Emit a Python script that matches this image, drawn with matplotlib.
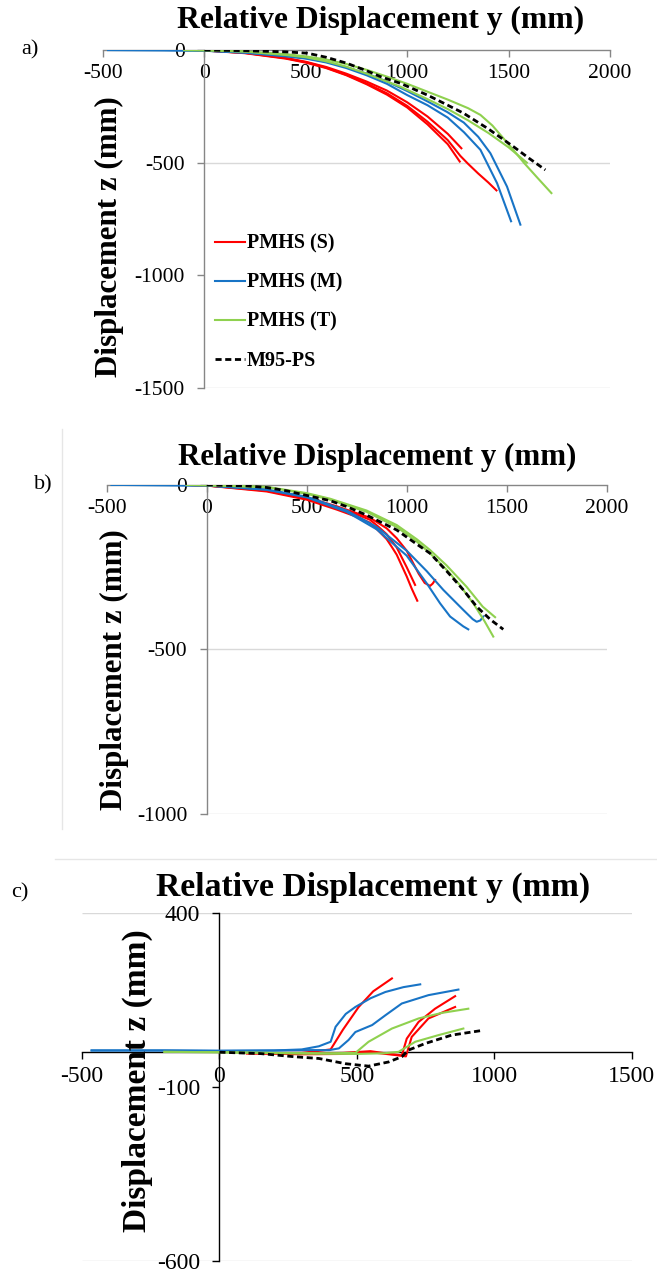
import matplotlib
matplotlib.use("Agg")
import matplotlib.pyplot as plt
from matplotlib.lines import Line2D

plt.rcParams['font.family'] = ['Liberation Serif', 'DejaVu Serif']
plt.rcParams['axes.unicode_minus'] = False

RED = '#ff0000'
BLUE = '#1874c6'
GREEN = '#8fd14f'

# ---- panel a) ----
a_s1_y = [-50, 0, 200, 400, 500, 600, 700, 800, 900, 1000, 1100, 1200, 1267]
a_s1_z = [0, -2, -12, -35, -52, -75, -105, -140, -180, -232, -295, -372, -436]
a_s2_y = [-50, 0, 200, 400, 500, 600, 700, 800, 900, 1000, 1100, 1200, 1259]
a_s2_z = [0, -2, -14, -38, -56, -80, -112, -152, -198, -255, -330, -418, -495]
a_s3_y = [-50, 0, 200, 400, 500, 600, 700, 800, 900, 1000, 1100, 1200, 1262, 1300, 1350, 1400, 1440]
a_s3_z = [0, -2, -13, -36, -54, -78, -110, -148, -192, -248, -318, -400, -470, -505, -548, -588, -623]
a_m1_y = [-475, -200, 0, 200, 400, 500, 600, 700, 800, 900, 1000, 1100, 1200, 1280, 1361, 1443, 1512]
a_m1_z = [0, -1, -3, -12, -28, -38, -55, -80, -112, -150, -200, -245, -300, -365, -443, -591, -760]
a_m2_y = [-475, -200, 0, 200, 400, 500, 600, 700, 800, 900, 1000, 1100, 1197, 1279, 1350, 1410, 1492, 1558]
a_m2_z = [0, -1, -3, -11, -26, -36, -52, -76, -105, -140, -182, -228, -275, -322, -385, -458, -606, -775]
a_t1_y = [-100, 0, 200, 400, 500, 600, 700, 800, 900, 1000, 1100, 1200, 1300, 1361, 1420, 1509, 1575, 1640, 1711]
a_t1_z = [0, -1, -6, -18, -28, -42, -62, -88, -118, -150, -185, -220, -258, -288, -335, -428, -500, -565, -635]
a_t2_y = [-100, 0, 200, 400, 500, 600, 700, 800, 900, 967, 1100, 1200, 1300, 1400, 1500, 1590]
a_t2_z = [0, -1, -7, -22, -32, -50, -74, -105, -140, -163, -218, -262, -312, -368, -432, -500]
a_ps_y = [0, 200, 400, 508, 600, 700, 800, 868, 967, 1100, 1200, 1277, 1400, 1524, 1600, 1681]
a_ps_z = [0, -3, -8, -14, -32, -58, -92, -118, -148, -200, -245, -280, -350, -429, -480, -532]

# ---- panel b) ----
b_s1_y = [-100, 0, 300, 500, 650, 750, 817, 860, 900, 925, 950, 975, 1000, 1025, 1053]
b_s1_z = [0, -2, -20, -45, -75, -97, -115, -140, -165, -188, -212, -245, -278, -315, -352]
b_s2_y = [-100, 0, 300, 500, 650, 750, 817, 860, 900, 950, 1000, 1042]
b_s2_z = [0, -2, -18, -42, -70, -90, -106, -128, -150, -190, -250, -304]
b_s3_y = [-100, 0, 300, 500, 650, 817, 900, 950, 1000, 1030, 1060, 1090, 1117, 1130, 1142]
b_s3_z = [0, -2, -16, -38, -65, -100, -132, -162, -200, -235, -270, -298, -307, -300, -289]
b_m1_y = [-475, -200, 0, 300, 500, 700, 850, 1000, 1100, 1167, 1217, 1283, 1308]
b_m1_z = [0, -1, -2, -15, -38, -82, -135, -215, -299, -360, -400, -430, -439]
b_m2_y = [-475, -200, 0, 300, 500, 700, 850, 1000, 1100, 1183, 1283, 1330, 1350, 1368, 1383]
b_m2_z = [0, -1, -2, -14, -36, -78, -128, -200, -262, -319, -380, -408, -416, -412, -400]
b_t1_y = [-100, 0, 300, 500, 617, 800, 950, 1050, 1117, 1200, 1300, 1380, 1442]
b_t1_z = [0, -1, -6, -25, -42, -78, -122, -165, -198, -245, -310, -370, -402]
b_t2_y = [-100, 0, 300, 500, 617, 800, 950, 1050, 1117, 1200, 1260, 1333, 1390, 1433]
b_t2_z = [0, -1, -7, -27, -45, -82, -128, -172, -208, -258, -300, -360, -415, -461]
b_ps_y = [0, 200, 300, 400, 500, 617, 700, 800, 950, 1050, 1117, 1200, 1283, 1350, 1420, 1483]
b_ps_z = [0, -3, -8, -18, -32, -48, -66, -92, -137, -180, -208, -262, -319, -370, -410, -439]

# ---- panel c) ----
c_s1_y = [100, 300, 405, 450, 507, 560, 628]
c_s1_z = [-3, -2, 8, 65, 130, 175, 212]
c_s2_y = [100, 300, 450, 550, 620, 664, 682, 725, 785, 858]
c_s2_z = [-3, -4, -2, 3, -5, -9, 39, 87, 125, 161]
c_s3_y = [100, 300, 450, 550, 640, 679, 700, 761, 858]
c_s3_z = [-3, -6, -5, 0, -8, -12, 44, 97, 130]
c_m1_y = [-465, -200, 0, 200, 300, 362, 405, 423, 460, 495, 550, 604, 670, 731]
c_m1_z = [5, 5, 4, 5, 8, 17, 30, 73, 110, 130, 155, 173, 187, 195]
c_m2_y = [-465, -200, 0, 200, 300, 400, 435, 470, 495, 556, 604, 664, 761, 870]
c_m2_z = [5, 5, 4, 5, 6, 6, 11, 35, 58, 78, 106, 140, 164, 180]
c_t1_y = [-200, 0, 200, 400, 495, 543, 628, 725, 810, 906]
c_t1_z = [1, 0, -2, -3, -2, 30, 68, 97, 113, 125]
c_t2_y = [-200, 0, 300, 500, 600, 652, 713, 797, 888]
c_t2_z = [1, 0, -4, -5, -3, 1, 30, 49, 68]
c_ps_y = [0, 150, 273, 362, 459, 543, 616, 664, 688, 749, 845, 960]
c_ps_z = [0, -4, -13, -18, -33, -40, -28, -13, 6, 25, 49, 63]

legend_labels = ['PMHS (S)', 'PMHS (M)', 'PMHS (T)', 'M95-PS']

fig = plt.figure(figsize=(6.57, 12.70), dpi=100)


def draw(ax, curves):
    for y, z, col in curves:
        if col == 'k':
            ax.plot(y, z, color='black', lw=2.0, ls=(0, (2.2, 1.3)), zorder=4)
        else:
            ax.plot(y, z, color=col, lw=1.5, zorder=3)


def style(ax, xlim, ylim, xticks, yticks, grids, gx0, axcol, fs):
    ax.set_xlim(xlim)
    ax.set_ylim(ylim)
    ax.patch.set_alpha(0)
    for s in ['top', 'right']:
        ax.spines[s].set_visible(False)
    ax.spines['left'].set_position(('data', 0))
    ax.spines['bottom'].set_position(('data', 0))
    for s in ['left', 'bottom']:
        ax.spines[s].set_color(axcol)
        ax.spines[s].set_linewidth(1.0)
    ax.set_xticks(xticks)
    ax.set_yticks(yticks)
    ax.set_xticklabels([str(v) for v in xticks])
    ax.set_yticklabels([str(v) for v in yticks])
    ax.tick_params(axis='x', direction='out', length=5, width=1, color=axcol, pad=5, labelsize=fs)
    ax.tick_params(axis='y', direction='out', length=5, width=1, color=axcol, pad=9, labelsize=fs)
    for g in grids:
        ax.hlines(g, gx0, xlim[1], color='#d9d9d9', lw=1.0, zorder=1)


# a)
ax1 = fig.add_axes([0.1568, 0.6945, 0.7717, 0.2661])
style(ax1, (-500, 2000), (-1500, 0), [-500, 0, 500, 1000, 1500, 2000],
      [0, -500, -1000, -1500], [-500, -1500], 0, '#868686', 15.5)
draw(ax1, [(a_s1_y, a_s1_z, RED), (a_s2_y, a_s2_z, RED), (a_s3_y, a_s3_z, RED),
           (a_m1_y, a_m1_z, BLUE), (a_m2_y, a_m2_z, BLUE),
           (a_t1_y, a_t1_z, GREEN), (a_t2_y, a_t2_z, GREEN),
           (a_ps_y, a_ps_z, 'k')])
handles = [Line2D([], [], color=RED, lw=1.5), Line2D([], [], color=BLUE, lw=1.5),
           Line2D([], [], color=GREEN, lw=1.5),
           Line2D([], [], color='black', lw=2.0, ls=(0, (2.2, 1.3)))]
fig.legend(handles, legend_labels, loc='upper left', bbox_to_anchor=(0.328, 0.816),
           frameon=False, prop={'weight': 'bold', 'size': 14.5}, handlelength=1.45,
           handletextpad=0.1, labelspacing=0.95, borderpad=0, borderaxespad=0)

# b)
ax2 = fig.add_axes([0.1624, 0.3591, 0.7610, 0.2591])
style(ax2, (-500, 2000), (-1000, 0), [-500, 0, 500, 1000, 1500, 2000],
      [0, -500, -1000], [-500, -1000], 0, '#868686', 15.5)
draw(ax2, [(b_s1_y, b_s1_z, RED), (b_s2_y, b_s2_z, RED), (b_s3_y, b_s3_z, RED),
           (b_m1_y, b_m1_z, BLUE), (b_m2_y, b_m2_z, BLUE),
           (b_t1_y, b_t1_z, GREEN), (b_t2_y, b_t2_z, GREEN),
           (b_ps_y, b_ps_z, 'k')])

# c)
ax3 = fig.add_axes([0.1248, 0.00709, 0.8364, 0.2740])
style(ax3, (-500, 1500), (-600, 400), [-500, 0, 500, 1000, 1500],
      [400, -100, -600], [400, -600], -500, '#000000', 17)
draw(ax3, [(c_s1_y, c_s1_z, RED), (c_s2_y, c_s2_z, RED), (c_s3_y, c_s3_z, RED),
           (c_m1_y, c_m1_z, BLUE), (c_m2_y, c_m2_z, BLUE),
           (c_t1_y, c_t1_z, GREEN), (c_t2_y, c_t2_z, GREEN),
           (c_ps_y, c_ps_z, 'k')])

# titles, axis labels, panel letters
title = 'Relative Displacement y (mm)'
fig.text(0.580, 0.984, title, ha='center', va='center', fontsize=22.8, weight='bold')
fig.text(0.574, 0.640, title, ha='center', va='center', fontsize=22.3, weight='bold')
fig.text(0.568, 0.3016, title, ha='center', va='center', fontsize=24.3, weight='bold')
ylab = 'Displacement z (mm)'
fig.text(0.167, 0.8134, ylab, rotation=90, ha='center', va='center', fontsize=22.3, weight='bold')
fig.text(0.1735, 0.4724, ylab, rotation=90, ha='center', va='center', fontsize=22.3, weight='bold')
fig.text(0.2085, 0.1488, ylab, rotation=90, ha='center', va='center', fontsize=24, weight='bold')
fig.text(0.0457, 0.9606, 'a)', ha='center', va='center', fontsize=16)
fig.text(0.0654, 0.618, 'b)', ha='center', va='center', fontsize=16)
fig.text(0.030, 0.2969, 'c)', ha='center', va='center', fontsize=16)

# faint chart borders
fig.add_artist(Line2D([0.095, 0.095], [0.347, 0.662], color='#e6e6e6', lw=1))
fig.add_artist(Line2D([0.084, 1.0], [0.3236, 0.3236], color='#e6e6e6', lw=1))

fig.savefig('out.png', dpi=100)
